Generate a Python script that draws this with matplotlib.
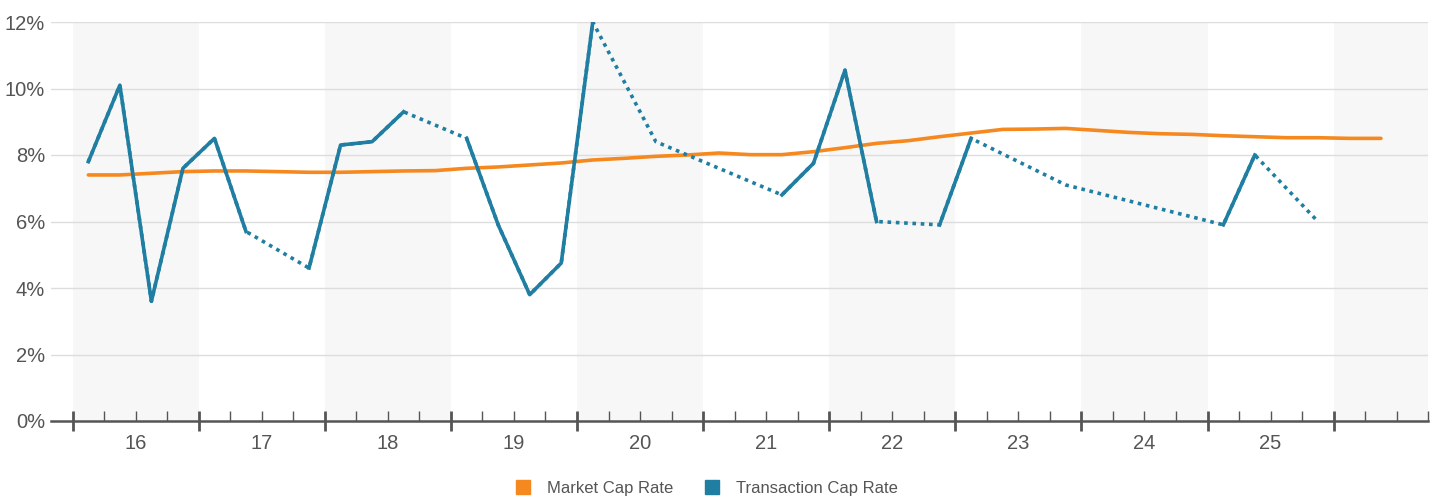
import numpy as np
import matplotlib.pyplot as plt
from matplotlib.lines import Line2D

plt.rcParams["font.family"] = ["Liberation Sans", "DejaVu Sans"]

# quarterly series, 2016 Q1 .. 2026 Q2
years = ["16", "17", "18", "19", "20", "21", "22", "23", "24", "25"]
market_cap = [7.40, 7.40, 7.45, 7.50, 7.52, 7.52, 7.50, 7.48,
              7.48, 7.50, 7.52, 7.53, 7.60, 7.64, 7.70, 7.76,
              7.85, 7.90, 7.96, 8.00, 8.06, 8.01, 8.01, 8.10,
              8.22, 8.35, 8.43, 8.55, 8.66, 8.77, 8.78, 8.80,
              8.74, 8.68, 8.64, 8.62, 8.58, 8.55, 8.52, 8.52,
              8.50, 8.50]
# None = no transactions recorded that quarter
transaction_cap = [7.8, 10.1, 3.6, 7.6, 8.5, 5.7, None, 4.6,
                   8.3, 8.4, 9.3, None, 8.5, 5.9, 3.8, 4.75,
                   12.0, None, 8.4, None, None, None, 6.8, 7.75,
                   10.55, 6.0, None, 5.9, 8.5, None, None, 7.1,
                   None, None, None, None, 5.9, 8.0, None, 6.0]

orange = "#f5891f"
blue = "#1f7ea1"
grey_text = "#555555"

x_mkt = np.arange(len(market_cap))
tx = np.array([np.nan if v is None else v for v in transaction_cap])
x_tx = np.arange(len(tx))
ok = ~np.isnan(tx)

fig = plt.figure(figsize=(14.37, 5), dpi=100)
ax = fig.add_axes([0.0353, 0.158, 0.9586, 0.798])

# alternating year bands
for i in range(0, 12, 2):
    ax.axvspan(-0.5 + 4 * i, 3.5 + 4 * i, color="#f7f7f7", lw=0, zorder=0)

for v in range(2, 13, 2):
    ax.axhline(v, color="#dddddd", lw=1, zorder=1)

ax.plot(x_mkt, market_cap, color=orange, lw=2.6, zorder=3, solid_capstyle="round")
# gaps bridged with a dotted line, measured quarters solid on top
ax.plot(x_tx[ok], tx[ok], color=blue, lw=2.6, ls=(0, (1, 1.3)),
        dash_capstyle="butt", zorder=4)
ax.plot(x_tx, tx, color=blue, lw=2.6, zorder=5)

ax.set_xlim(-1.193, 42.2)
ax.set_ylim(0, 12)

for s in ["top", "right", "left"]:
    ax.spines[s].set_visible(False)
ax.spines["bottom"].set_color(grey_text)
ax.spines["bottom"].set_linewidth(1.8)

ax.set_xticks([-0.5 + 4 * i for i in range(11)])
ax.set_xticks([-0.5 + q for q in range(44) if q % 4], minor=True)
ax.tick_params(axis="x", which="major", direction="inout", length=14, width=2,
               color=grey_text, labelbottom=False)
ax.tick_params(axis="x", which="minor", direction="in", length=7, width=1,
               color=grey_text)
for i, yr in enumerate(years):
    ax.text(1.5 + 4 * i, -0.68, yr, ha="center", va="center",
            fontsize=14.5, color=grey_text)

ax.set_yticks(range(0, 13, 2))
ax.set_yticklabels([f"{v}%" for v in range(0, 13, 2)])
ax.tick_params(axis="y", length=0, pad=4, labelsize=14.5, labelcolor=grey_text)

handles = [Line2D([], [], ls="none", marker="s", markersize=10, color=orange),
           Line2D([], [], ls="none", marker="s", markersize=10, color=blue)]
fig.legend(handles, ["Market Cap Rate", "Transaction Cap Rate"],
           loc="center", bbox_to_anchor=(0.4885, 0.024), ncol=2, frameon=False,
           fontsize=12, labelcolor=grey_text, handletextpad=0.42, columnspacing=1.35)

fig.savefig("out.png", dpi=100, facecolor="white")
